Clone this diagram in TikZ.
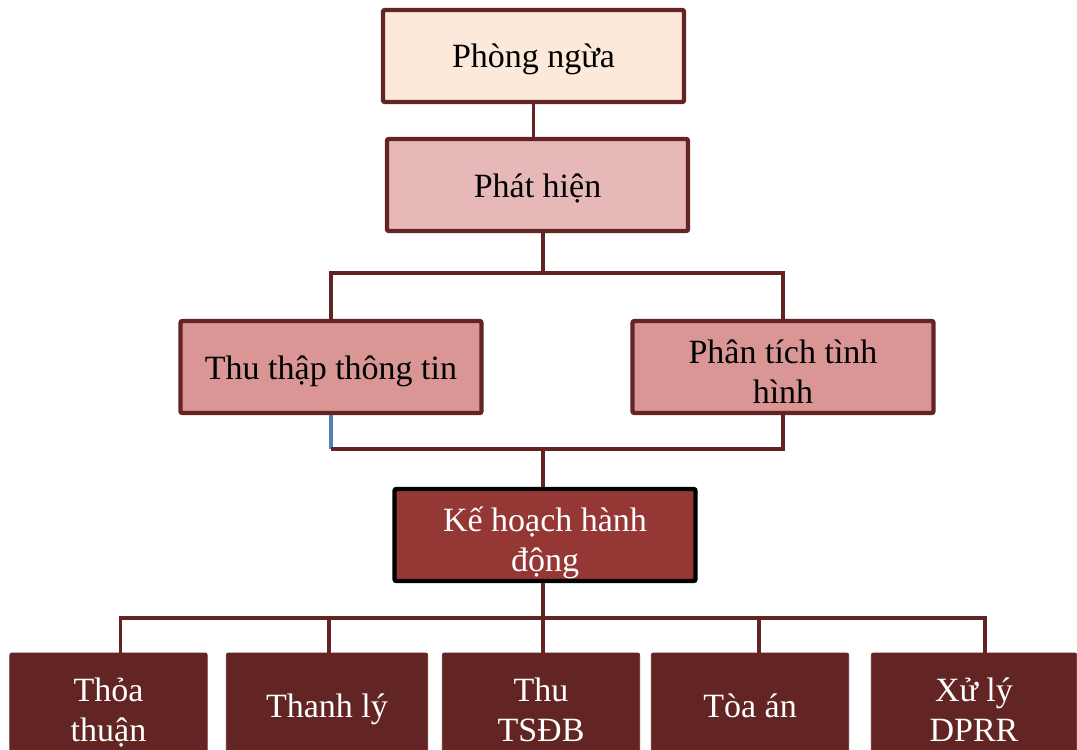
\documentclass[tikz,border=0pt]{standalone}
\usepackage{fontspec}
\setmainfont{Liberation Serif}
\usetikzlibrary{calc}
\definecolor{linkred}{HTML}{632523}
\definecolor{peach}{HTML}{FDE9D9}
\definecolor{rosy}{HTML}{E6B9B8}
\definecolor{rose}{HTML}{D99694}
\definecolor{planred}{HTML}{953735}
\definecolor{joinblue}{HTML}{4F81BD}

\begin{document}
\begin{tikzpicture}[
  x=0.75pt, y=-0.75pt,
  font=\fontsize{25.5}{30}\selectfont,
  stage/.style={draw=linkred, line width=3.3pt, rounded corners=1.5pt,
    align=center, minimum width=225.75pt, minimum height=69pt, inner sep=2pt,
    text height=18pt, text depth=0pt},
  action/.style={draw=linkred, fill=linkred, line width=0.6pt, rounded corners=1.5pt,
    align=center, text=white, minimum width=148pt, minimum height=78pt, inner sep=2pt,
    text height=18pt, text depth=0pt},
  twoline/.style={text height=54pt},
  link/.style={draw=linkred, line width=2.7pt}
]
  \clip (0,0) rectangle (1077,749);

  \node[stage, fill=peach] (prevent) at (533.5,56) {Phòng ngừa};
  \node[stage, fill=rosy] (detect) at (537.5,185) {Phát hiện};
  \node[stage, fill=rose] (collect) at (331,367) {Thu thập thông tin};
  \node[stage, fill=rose, twoline] (analyse) at (783,367) {Phân tích tình\\hình};
  \node[stage, fill=planred, draw=black, text=white, twoline] (plan) at (545,535)
    {Kế hoạch hành\\động};

  \node[action, twoline] (agree) at (108.5,705) {Thỏa\\thuận};
  \node[action, minimum width=151pt] (liquid) at (327,705) {Thanh lý};
  \node[action, twoline] (collat) at (541,705) {Thu\\TSĐB};
  \node[action] (court) at (750,705) {Tòa án};
  \node[action, minimum width=154pt, twoline] (dprr) at (974,705) {Xử lý\\DPRR};

  % upper tree
  \draw[link] (prevent.south) -- (prevent.south |- detect.north);
  \coordinate (split) at (543,273);
  \draw[link] (detect.south -| split) -- (split);
  \draw[link] (collect.north) |- (split) -| (analyse.north);

  \coordinate (join) at (543,449);
  \draw[link, draw=joinblue] (collect.south) -- (collect.south |- join);
  \draw[link] (collect.south |- join) -- (join) -| (analyse.south);
  \draw[link] (join) -- (join |- plan.north);

  % lower tree
  \coordinate (fan) at (543,618);
  \draw[link] (plan.south -| fan) -- (fan);
  \draw[link] ($(agree.north)+(12,0)$) |- (fan) -| ($(dprr.north)+(11,0)$);
  \foreach \n/\dx in {liquid/2, collat/2, court/9}
    \draw[link] ($(\n.north)+(\dx,0)$) -- ($(\n.north |- fan)+(\dx,0)$);
\end{tikzpicture}
\end{document}
